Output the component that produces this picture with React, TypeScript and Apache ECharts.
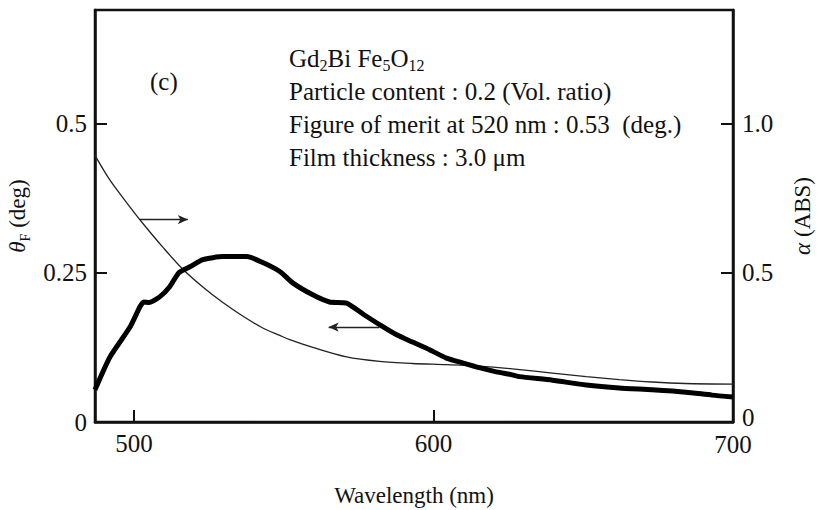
import React, { useEffect, useRef } from "react";
import * as echarts from "echarts";

// Faraday rotation θF (left axis, deg) — thick measured curve
const thetaWl = [487, 492, 498.7, 502, 503.3, 505, 508.7, 512, 515, 518.7, 523, 529.7, 537.7, 543, 548.7, 553, 559.7, 565.3, 571, 576.7, 582, 587.7, 593, 598.7, 604.3, 609.7, 615.3, 621, 626.3, 628.7, 639.7, 651, 662, 673, 684.3, 693, 700];
const thetaVal = [0.054, 0.109, 0.159, 0.193, 0.201, 0.2, 0.21, 0.227, 0.25, 0.26, 0.272, 0.277, 0.277, 0.267, 0.252, 0.233, 0.213, 0.201, 0.199, 0.18, 0.163, 0.146, 0.134, 0.121, 0.107, 0.099, 0.091, 0.084, 0.079, 0.076, 0.07, 0.062, 0.057, 0.054, 0.05, 0.045, 0.042];

// Absorption α (right axis, ABS) — thin curve
const alphaWl = [487, 492, 498.7, 503, 509.7, 516, 523, 529.7, 536.3, 543, 548.7, 552, 559.7, 571, 582, 593, 604.3, 615.3, 626.3, 639.7, 651, 662, 673, 684, 700];
const alphaVal = [0.893, 0.81, 0.72, 0.665, 0.585, 0.515, 0.452, 0.4, 0.355, 0.315, 0.29, 0.276, 0.25, 0.218, 0.203, 0.196, 0.192, 0.187, 0.178, 0.164, 0.152, 0.142, 0.134, 0.129, 0.127];

const xTickLabels = [500, 600, 700];
const leftTicks = [0, 0.25, 0.5];
const rightTicks = [0, 0.5, 1.0];

// arrows: [x1, x2, y]
const alphaArrow = [502, 518, 0.678];
const thetaArrow = [582, 565, 0.159];

const annotationLines = [
  "Particle content : 0.2 (Vol. ratio)",
  "Figure of merit at 520 nm : 0.53  (deg.)",
  "Film thickness : 3.0 μm",
];

const FONT = "'Liberation Serif', 'Times New Roman', serif";

export default function App() {
  const ref = useRef<HTMLDivElement>(null);
  useEffect(() => {
    if (!ref.current) return;
    const chart = echarts.init(ref.current, null, { renderer: "svg" });
    const thetaData = thetaWl.map((w, i) => [w, thetaVal[i]]);
    const alphaData = alphaWl.map((w, i) => [w, alphaVal[i]]);
    const fs = 25;
    const afs = 25;
    const mkRich = (size: number) => ({
      n: { fontFamily: FONT, fontSize: size, color: "#111", lineHeight: 30 },
      s: { fontFamily: FONT, fontSize: Math.round(size * 0.62), color: "#111", lineHeight: 15, verticalAlign: "bottom" },
      i: { fontFamily: FONT, fontSize: size, color: "#111", fontStyle: "italic", lineHeight: 30 },
    });
    chart.setOption({
      animation: false,
      backgroundColor: "#fff",
      grid: {
        left: 95,
        right: 85,
        top: 10,
        bottom: 88,
        outerBoundsMode: "none",
        containLabel: false,
        show: true,
        borderColor: "#111",
        borderWidth: 2.5,
      },
      xAxis: {
        type: "value",
        min: 487,
        max: 700,
        name: "Wavelength (nm)",
        nameLocation: "middle",
        nameGap: 62,
        nameTextStyle: { fontFamily: FONT, fontSize: 23, color: "#111" },
        axisLine: { lineStyle: { color: "#111", width: 2.5 } },
        axisTick: { inside: true, length: 12, customValues: [500, 600], lineStyle: { color: "#111", width: 2 } },
        axisLabel: {
          customValues: xTickLabels,
          margin: 9,
          fontFamily: FONT,
          fontSize: fs,
          color: "#111",
          formatter: (v: number) => (v === 700 ? "{e|700}" : String(v)),
          rich: { e: { fontFamily: FONT, fontSize: fs, color: "#111", padding: [1, 0, 0, 0] } },
        },
        splitLine: { show: false },
      },
      yAxis: [
        {
          type: "value",
          min: 0,
          max: 0.69,
          position: "left",
          name: "{i|θ}{s|F}{n| (deg)}",
          nameLocation: "middle",
          nameRotate: 90,
          nameGap: 50,
          nameTextStyle: { rich: mkRich(23) },
          axisLine: { show: true, lineStyle: { color: "#111", width: 2.5 } },
          axisTick: { show: true, inside: true, length: 12, customValues: leftTicks, lineStyle: { color: "#111", width: 2 } },
          axisLabel: {
            customValues: leftTicks,
            margin: 8,
            fontFamily: FONT,
            fontSize: fs,
            color: "#111",
            formatter: (v: number) => (v === 0 ? "0" : String(v)),
          },
          splitLine: { show: false },
        },
        {
          type: "value",
          min: 0,
          max: 1.38,
          position: "right",
          name: "{i|α}{n| (ABS)}",
          nameLocation: "middle",
          nameRotate: 90,
          nameGap: 54,
          nameTextStyle: { rich: mkRich(23) },
          axisLine: { show: true, lineStyle: { color: "#111", width: 2.5 } },
          axisTick: { show: true, inside: true, length: 12, customValues: [0.5, 1.0], lineStyle: { color: "#111", width: 2 } },
          axisLabel: {
            customValues: rightTicks,
            margin: 9,
            fontFamily: FONT,
            fontSize: fs,
            color: "#111",
            formatter: (v: number) => (v === 0 ? "{z|0}" : v.toFixed(1)),
            rich: { z: { fontFamily: FONT, fontSize: fs, color: "#111", padding: [0, 0, 10, 0] } },
          },
          splitLine: { show: false },
        },
      ],
      series: [
        {
          name: "alpha",
          type: "line",
          yAxisIndex: 1,
          data: alphaData,
          smooth: 0.3,
          showSymbol: false,
          lineStyle: { color: "#222", width: 1.3 },
          markLine: {
            silent: true,
            symbol: ["none", "arrow"],
            symbolSize: [7, 10],
            label: { show: false },
            lineStyle: { color: "#222", width: 1.3, type: "solid" },
            data: [[{ coord: [alphaArrow[0], alphaArrow[2]] }, { coord: [alphaArrow[1], alphaArrow[2]] }]],
          },
        },
        {
          name: "theta",
          type: "line",
          yAxisIndex: 0,
          data: thetaData,
          smooth: 0.2,
          showSymbol: false,
          lineStyle: { color: "#000", width: 5 },
          markLine: {
            silent: true,
            symbol: ["none", "arrow"],
            symbolSize: [7, 10],
            label: { show: false },
            lineStyle: { color: "#222", width: 1.3, type: "solid" },
            data: [[{ coord: [thetaArrow[0], thetaArrow[2]] }, { coord: [thetaArrow[1], thetaArrow[2]] }]],
          },
        },
      ],
      graphic: [
        {
          type: "text",
          left: 150,
          top: 69,
          style: { text: "(c)", font: `${afs}px ${FONT}`, fill: "#111" },
        },
        {
          type: "text",
          left: 289,
          top: 46,
          style: {
            text: "{n|Gd}{s|2}{n|Bi Fe}{s|5}{n|O}{s|12}",
            rich: mkRich(afs),
            fill: "#111",
          },
        },
        ...annotationLines.map((t, i) => ({
          type: "text",
          left: 289,
          top: 79 + i * 33,
          style: { text: t, font: `${afs}px ${FONT}`, fill: "#111" },
        })),
      ],
    });
    return () => chart.dispose();
  }, []);
  return (
    <div
      ref={ref}
      style={{ position: "fixed", left: 0, top: 0, width: 818, height: 510 }}
    />
  );
}
